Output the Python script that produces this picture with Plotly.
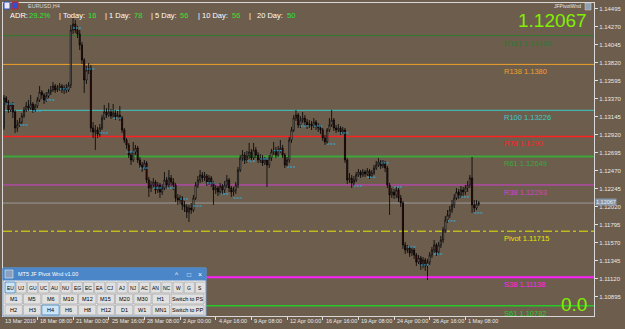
import plotly.graph_objects as go

# ---------------- data (EURUSD H4) ----------------
bar_index = list(range(5, 219))
first_open = 1.13018
close = [1.1338, 1.1333, 1.1323, 1.13293, 1.13205, 1.13005, 1.13043, 1.1308, 1.13155, 1.1323,
         1.1328, 1.13255, 1.13305, 1.1323, 1.1328, 1.13355, 1.13455, 1.13418, 1.13355, 1.13405,
         1.13455, 1.1348, 1.1353, 1.1348, 1.13505, 1.1353, 1.1348, 1.13505, 1.1348, 1.13543,
         1.1423, 1.14305, 1.1423, 1.1418, 1.14043, 1.13855, 1.13605, 1.1373, 1.13755, 1.13005,
         1.12955, 1.1298, 1.1293, 1.13005, 1.1313, 1.13205, 1.13168, 1.13205, 1.13155, 1.13193,
         1.13143, 1.13168, 1.1313, 1.1298, 1.12855, 1.12793, 1.12668, 1.12605, 1.12705, 1.12755,
         1.12605, 1.12543, 1.12505, 1.12568, 1.12355, 1.12255, 1.12293, 1.1233, 1.1223, 1.12293,
         1.12205, 1.12255, 1.12355, 1.12293, 1.1238, 1.1233, 1.12293, 1.1213, 1.12105, 1.1213,
         1.12043, 1.12018, 1.11955, 1.12005, 1.1198, 1.1213, 1.12293, 1.12355, 1.12418, 1.1238,
         1.12405, 1.1233, 1.1238, 1.12318, 1.1223, 1.12255, 1.12205, 1.1228, 1.1223, 1.12293,
         1.12355, 1.12255, 1.12205, 1.1223, 1.12293, 1.1248, 1.1263, 1.12668, 1.12605, 1.12655,
         1.12705, 1.1263, 1.1273, 1.12668, 1.12605, 1.1263, 1.12568, 1.12605, 1.12543, 1.1263,
         1.12705, 1.1273, 1.12668, 1.1273, 1.12755, 1.12668, 1.12543, 1.12605, 1.12855, 1.1298,
         1.1313, 1.13168, 1.13043, 1.13105, 1.1313, 1.1308, 1.13043, 1.13055, 1.1303, 1.1308,
         1.1303, 1.13005, 1.1298, 1.1288, 1.1283, 1.1298, 1.13043, 1.13105, 1.13005, 1.1298,
         1.13005, 1.12955, 1.1298, 1.12605, 1.12355, 1.1238, 1.12318, 1.12355, 1.12418, 1.12455,
         1.12418, 1.12455, 1.1243, 1.12468, 1.12405, 1.12443, 1.12505, 1.12543, 1.1258, 1.1253,
         1.12568, 1.12505, 1.12293, 1.12168, 1.12205, 1.12168, 1.1223, 1.1213, 1.12068, 1.11543,
         1.1148, 1.11505, 1.11443, 1.1148, 1.11418, 1.1133, 1.1138, 1.11293, 1.11355, 1.1128,
         1.1133, 1.11418, 1.1148, 1.11543, 1.11455, 1.11543, 1.11605, 1.1173, 1.11855, 1.11918,
         1.1198, 1.12043, 1.1213, 1.12205, 1.12168, 1.1223, 1.12205, 1.12255, 1.12293, 1.1238,
         1.12043, 1.12005, 1.12055, 1.12067]
high = [1.13418, 1.13405, 1.13355, 1.13318, 1.1333, 1.1323, 1.13105, 1.1313, 1.13193, 1.13268,
        1.1333, 1.13355, 1.13418, 1.1333, 1.13305, 1.13393, 1.1353, 1.1348, 1.13443, 1.13455,
        1.13493, 1.1353, 1.1358, 1.13555, 1.13543, 1.13568, 1.13555, 1.13543, 1.13555, 1.1358,
        1.14293, 1.1438, 1.14355, 1.1428, 1.1423, 1.1408, 1.1388, 1.1378, 1.13818, 1.13793,
        1.1308, 1.13043, 1.13018, 1.13055, 1.13168, 1.13293, 1.13255, 1.13318, 1.13243, 1.13305,
        1.1323, 1.13218, 1.1328, 1.13155, 1.13005, 1.1288, 1.12818, 1.12705, 1.1283, 1.12793,
        1.1278, 1.12643, 1.1258, 1.12605, 1.12593, 1.12393, 1.12343, 1.1238, 1.12355, 1.1233,
        1.12318, 1.12305, 1.12455, 1.12393, 1.1248, 1.12418, 1.1238, 1.12318, 1.1218, 1.12168,
        1.12155, 1.12093, 1.12055, 1.12043, 1.12068, 1.12168, 1.1233, 1.12405, 1.1248, 1.12455,
        1.12455, 1.1243, 1.12418, 1.12405, 1.12343, 1.12293, 1.1228, 1.12318, 1.12305, 1.12343,
        1.12418, 1.1238, 1.1228, 1.12268, 1.1233, 1.12518, 1.12668, 1.1273, 1.12705, 1.12718,
        1.12818, 1.12743, 1.12818, 1.12768, 1.12705, 1.1268, 1.12668, 1.12643, 1.1263, 1.12668,
        1.12743, 1.1283, 1.12768, 1.1278, 1.12855, 1.12793, 1.12693, 1.12643, 1.12893, 1.13018,
        1.13168, 1.1323, 1.13193, 1.13155, 1.13205, 1.13168, 1.13118, 1.13105, 1.13093, 1.1313,
        1.13105, 1.13068, 1.13043, 1.13005, 1.12918, 1.13005, 1.1313, 1.1323, 1.1313, 1.13043,
        1.13055, 1.1303, 1.13018, 1.13005, 1.1263, 1.12443, 1.12418, 1.12405, 1.12455, 1.12493,
        1.1248, 1.12493, 1.1248, 1.12505, 1.12493, 1.1248, 1.12543, 1.12593, 1.1263, 1.12605,
        1.12605, 1.12593, 1.1253, 1.12318, 1.12255, 1.12243, 1.12268, 1.12255, 1.12168, 1.12093,
        1.1158, 1.11543, 1.1153, 1.11518, 1.11505, 1.11443, 1.11418, 1.11405, 1.11393, 1.1138,
        1.11368, 1.11455, 1.11518, 1.11605, 1.11568, 1.1158, 1.11655, 1.11768, 1.11905, 1.1198,
        1.1203, 1.12105, 1.1218, 1.12255, 1.12243, 1.1228, 1.12268, 1.12293, 1.12343, 1.12418,
        1.12643, 1.12105, 1.12105, 1.12093]
low = [1.1298, 1.13293, 1.13193, 1.13205, 1.1313, 1.12943, 1.12955, 1.13018, 1.13055, 1.1313,
       1.13205, 1.13218, 1.1323, 1.13193, 1.13205, 1.13255, 1.1333, 1.13368, 1.13305, 1.1333,
       1.1338, 1.13418, 1.13455, 1.13443, 1.13455, 1.13468, 1.13443, 1.1343, 1.13443, 1.13455,
       1.13505, 1.1418, 1.14193, 1.1413, 1.1398, 1.13805, 1.13443, 1.13555, 1.1368, 1.12955,
       1.1288, 1.1273, 1.1288, 1.12893, 1.1298, 1.13105, 1.1313, 1.13143, 1.13118, 1.1313,
       1.13105, 1.13118, 1.13093, 1.12943, 1.12818, 1.12743, 1.1263, 1.12543, 1.1258, 1.12668,
       1.12568, 1.12505, 1.12455, 1.1248, 1.12318, 1.12143, 1.12205, 1.12255, 1.1218, 1.12193,
       1.1213, 1.12168, 1.1223, 1.12243, 1.12255, 1.1228, 1.1223, 1.1208, 1.12043, 1.12055,
       1.1198, 1.11955, 1.1188, 1.1183, 1.1193, 1.11955, 1.12105, 1.12255, 1.12318, 1.1233,
       1.12343, 1.1228, 1.12293, 1.12268, 1.12043, 1.1218, 1.12155, 1.12168, 1.1218, 1.12193,
       1.12255, 1.12205, 1.12143, 1.12155, 1.1218, 1.12255, 1.12455, 1.12593, 1.12555, 1.12568,
       1.12618, 1.12593, 1.12605, 1.1263, 1.12568, 1.12568, 1.1253, 1.12543, 1.12268, 1.12505,
       1.12593, 1.12668, 1.1263, 1.12643, 1.12693, 1.1263, 1.12505, 1.12518, 1.12568, 1.12818,
       1.12955, 1.13093, 1.13005, 1.13005, 1.13068, 1.1303, 1.12993, 1.13005, 1.1298, 1.13005,
       1.1298, 1.12955, 1.1293, 1.12843, 1.12793, 1.12805, 1.12955, 1.13018, 1.12968, 1.12943,
       1.12955, 1.12918, 1.1293, 1.12568, 1.12305, 1.12318, 1.12255, 1.1228, 1.1233, 1.12393,
       1.1238, 1.12393, 1.12393, 1.12405, 1.12368, 1.1238, 1.12418, 1.1248, 1.12518, 1.12493,
       1.12505, 1.12455, 1.12255, 1.11918, 1.1213, 1.12118, 1.1213, 1.1208, 1.12018, 1.11493,
       1.1143, 1.11443, 1.11393, 1.11405, 1.11368, 1.1128, 1.11305, 1.1123, 1.1125, 1.11218,
       1.11105, 1.11293, 1.1138, 1.11443, 1.11405, 1.11418, 1.11505, 1.11568, 1.11693, 1.11818,
       1.1188, 1.11943, 1.12005, 1.12105, 1.12118, 1.1213, 1.12155, 1.12168, 1.12205, 1.12255,
       1.11943, 1.11955, 1.1198, 1.1203]
open_ = [first_open] + close[:-1]

# daily open markers (start bar of each day, price)
day_start_bar = [6, 12, 18, 24, 30, 36, 42, 48, 54, 60, 66, 72, 78, 84, 90, 96, 102, 108,
                 114, 120, 126, 132, 138, 144, 150, 156, 162, 168, 174, 180, 186, 192, 198, 204, 210, 216]
day_open_price = [1.13305, 1.13043, 1.13218, 1.13355, 1.13493, 1.14255, 1.13743, 1.12943, 1.1313,
                  1.12705, 1.12505, 1.12255, 1.12255, 1.12118, 1.1203, 1.12318, 1.1218, 1.1213,
                  1.12592, 1.12618, 1.12721, 1.12518, 1.1303, 1.1303, 1.12805, 1.12943, 1.1228,
                  1.1239, 1.12568, 1.12268, 1.11518, 1.11293, 1.1143, 1.11843, 1.12143, 1.11943]

# pivot levels
level_names = ["R161", "R138", "R100", "R78", "R61", "R38", "Pivot", "S38", "S61"]
level_values = [1.14160, 1.13800, 1.13226, 1.12900, 1.12649, 1.12293, 1.11715, 1.11138, 1.10782]
level_labels = ["1.14160", "1.1380", "1.13226", "1.1290", "1.12649", "1.12293", "1.11715", "1.11138", "1.10782"]
level_colors = ["#2f7a2f", "#f0a028", "#3cc8c8", "#ff2020", "#3aa83a", "#d040d0", "#e6e600", "#ff20ff", "#28c828"]
level_widths = [1, 1, 1, 1.5, 2, 1, 1, 2, 1.5]
level_dash = ["solid"] * 6 + ["dashdot"] + ["solid"] * 2
current_price = 1.12067

# y axis ticks
y_tick_vals = [1.14495, 1.14270, 1.14045, 1.13820, 1.13595, 1.13370, 1.13145, 1.12920, 1.12695,
               1.12470, 1.12245, 1.12020, 1.11795, 1.11570, 1.11345, 1.11120, 1.10895]
y_tick_text = ["1.14495", "1.14270", "1.14045", "1.13820", "1.13595", "1.13370", "1.13145", "1.12920",
               "1.12695", "1.12470", "1.12245", "1.12020", "1.11795", "1.11570", "1.11345", "1.11120", "1.10895"]
# x axis ticks (bar index -> label)
x_tick_vals = [20, 36, 52, 68, 84, 100, 116, 132, 148, 164, 180, 196, 212]
x_tick_text = ["18 Mar 08:00", "21 Mar 00:00", "25 Mar 16:00", "28 Mar 08:00", "2 Apr 00:00", "4 Apr 16:00",
               "9 Apr 08:00", "12 Apr 00:00", "16 Apr 16:00", "19 Apr 08:00", "24 Apr 00:00", "26 Apr 16:00",
               "1 May 08:00"]

adr_parts = [("ADR:", "w", 8), ("29.2%", "g", 27), ("| Today:", "w", 57), ("16", "g", 86),
             ("| 1 Day:", "w", 103), ("78", "g", 132), ("| 5 Day:", "w", 149), ("56", "g", 178),
             ("| 10 Day:", "w", 196), ("56", "g", 230), ("|", "w", 247), ("20 Day:", "w", 255), ("50", "g", 285)]

# ---------------- figure ----------------
W, H = 625, 329
ML, MR, MT, MB = 3, 31, 3, 13
PW, PH = W - ML - MR, H - MT - MB
BG = "#6d5d4d"
FONT = "Liberation Sans"


def px(x):
    return (x - ML) / PW


def py(y):
    return (H - MB - y) / PH


fig = go.Figure()

# daily open markers
mx, my = [], []
for b, p in zip(day_start_bar, day_open_price):
    mx += [b, b + 3.6, None]
    my += [p, p, None]
fig.add_trace(go.Scatter(x=mx, y=my, mode="lines", line=dict(color="#2fb4ea", width=1, dash="2px,1px"),
                         hoverinfo="skip", showlegend=False))

fig.add_trace(go.Candlestick(
    x=bar_index, open=open_, high=high, low=low, close=close,
    increasing=dict(line=dict(color="#000000", width=0.8), fillcolor="#dcdcdc"),
    decreasing=dict(line=dict(color="#000000", width=0.8), fillcolor="#6a1010"),
    whiskerwidth=0, hoverinfo="skip", showlegend=False))

shapes = []
annotations = []

# pivot lines + labels
for name, val, lab, col, wd, dsh in zip(level_names, level_values, level_labels, level_colors, level_widths, level_dash):
    shapes.append(dict(type="line", xref="paper", x0=0, x1=1, yref="y", y0=val, y1=val,
                       line=dict(color=col, width=wd, dash=dsh), layer="below"))
    annotations.append(dict(xref="paper", x=px(502), yref="y", y=val, text=f"{name} {lab}",
                            xanchor="left", yanchor="top", yshift=-1, showarrow=False,
                            font=dict(family=FONT, size=7.5, color=col)))
# current price line
shapes.append(dict(type="line", xref="paper", x0=0, x1=1, yref="y", y0=current_price, y1=current_price,
                   line=dict(color="#9a9a9a", width=1), layer="below"))
annotations.append(dict(xref="paper", x=1, xanchor="left", xshift=1, yref="y", y=current_price, yshift=1.5,
                        text="1.12067", showarrow=False, bgcolor="#8797aa",
                        font=dict(family=FONT, size=5.5, color="#e8eef6"), borderpad=0))

# x labels
annotations.append(dict(xref="paper", x=0, yref="paper", y=py(321), text="13 Mar 2019", xanchor="left",
                        yanchor="middle", showarrow=False, xshift=0,
                        font=dict(family=FONT, size=5.5, color="#e8e8e8")))
for v, t in zip(x_tick_vals, x_tick_text):
    annotations.append(dict(xref="x", x=v, yref="paper", y=py(321), text=t, xanchor="left",
                            yanchor="middle", showarrow=False, xshift=1,
                            font=dict(family=FONT, size=5.5, color="#e8e8e8")))

# header texts
annotations.append(dict(xref="paper", x=px(26), yref="paper", y=py(6.5), text="EURUSD,H4", xanchor="left",
                        yanchor="middle", showarrow=False, font=dict(family=FONT, size=5.5, color="#d8d8d8")))
for txt, c, xpos in adr_parts:
    annotations.append(dict(xref="paper", x=px(xpos), yref="paper", y=py(16), text=txt, xanchor="left",
                            yanchor="middle", showarrow=False,
                            font=dict(family=FONT, size=7.5, color="#ffffff" if c == "w" else "#2ee62e")))
annotations.append(dict(xref="paper", x=px(583), yref="paper", y=py(6), text="JFPivotWnd", xanchor="right",
                        yanchor="middle", showarrow=False, font=dict(family=FONT, size=5, color="#e8e8e8")))
annotations.append(dict(xref="paper", x=px(589), yref="paper", y=py(20.5), text="1.12067", xanchor="right",
                        yanchor="middle", showarrow=False, font=dict(family=FONT, size=19, color="#80f000")))
annotations.append(dict(xref="paper", x=px(589), yref="paper", y=py(304), text="0.0", xanchor="right",
                        yanchor="middle", showarrow=False, font=dict(family=FONT, size=19, color="#80f000")))

# small flags top-left
shapes.append(dict(type="rect", xref="paper", yref="paper", x0=px(4), x1=px(10), y0=py(9), y1=py(2),
                   fillcolor="#e8e8f8", line=dict(color="#3050c0", width=1)))
shapes.append(dict(type="rect", xref="paper", yref="paper", x0=px(12), x1=px(18), y0=py(9), y1=py(2),
                   fillcolor="#3050d0", line=dict(color="#d02020", width=1)))
# icon next to JFPivotWnd
shapes.append(dict(type="rect", xref="paper", yref="paper", x0=px(585), x1=px(591), y0=py(10), y1=py(3),
                   fillcolor="#8fa0b0", line=dict(color="#d0d0d0", width=0.5)))


# ---- control panel (bottom-left) ----
def rect(x0, y0, x1, y1, fill, line, lw=1):
    shapes.append(dict(type="rect", xref="paper", yref="paper", x0=px(x0), x1=px(x1), y0=py(y1), y1=py(y0),
                       fillcolor=fill, line=dict(color=line, width=lw)))


def label(x, y, t, size=5.5, color="#000000", anchor="center"):
    annotations.append(dict(xref="paper", yref="paper", x=px(x), y=py(y), text=t, xanchor=anchor,
                            yanchor="middle", showarrow=False, font=dict(family=FONT, size=size, color=color)))


rect(3, 268, 206, 316, "#f0f0f0", "#7a9cc8")
rect(3, 268, 206, 280, "#4a86c8", "#4a86c8")
label(16, 274, "MT5 JF Pivot Wnd v1.00", 5.5, "#ffffff", "left")
label(177, 274, "^", 6.5, "#ffffff")
label(189, 274, "□", 6.5, "#ffffff")
label(200, 274, "×", 7, "#ffffff")
rect(5, 270, 13, 278, "#8aa0c0", "#ffffff", 0.5)

row1 = ["EU", "UJ", "GU", "UC", "AU", "NU", "EG", "EC", "EA", "CJ", "AJ", "NJ", "AC", "AN", "NC", "W", "G", "S"]
for k, t in enumerate(row1):
    x0 = 5 + k * 11.2
    sel = (t == "EU")
    rect(x0, 282, x0 + 10.2, 293, "#cce4f7" if sel else "#e1e1e1", "#3c7fb1" if sel else "#adadad", 0.8)
    label(x0 + 5.1, 287.5, t, 5)
row2 = ["M1", "M5", "M6", "M10", "M12", "M15", "M20", "M30", "H1"]
row3 = ["H2", "H3", "H4", "H6", "H8", "H12", "D1", "W1", "MN1"]
for r, (row, yy, last) in enumerate([(row2, 294, "Switch to PS"), (row3, 305, "Switch to PP")]):
    for k, t in enumerate(row):
        x0 = 5 + k * 18.4
        sel = (t == "H4")
        rect(x0, yy, x0 + 17.4, yy + 10, "#cce4f7" if sel else "#e1e1e1", "#3c7fb1" if sel else "#adadad", 0.8)
        label(x0 + 8.7, yy + 5, t, 5.5)
    rect(171, yy, 204, yy + 10, "#e1e1e1", "#adadad", 0.8)
    label(187.5, yy + 5, last, 5.5)

fig.update_layout(
    width=W, height=H, margin=dict(l=ML, r=MR, t=MT, b=MB, pad=0),
    paper_bgcolor=BG, plot_bgcolor=BG, showlegend=False,
    shapes=shapes, annotations=annotations,
    xaxis=dict(range=[4.58, 269.7], rangeslider=dict(visible=False), showgrid=False, zeroline=False,
               tickvals=x_tick_vals, ticks="outside", ticklen=3, tickcolor="#e0e0e0", showticklabels=False,
               showline=True, linecolor="#d8d8d8", linewidth=1, mirror=True),
    yaxis=dict(range=[1.10655, 1.145675], side="right", showgrid=False, zeroline=False,
               tickvals=y_tick_vals, ticktext=y_tick_text, ticks="outside", ticklen=3, tickcolor="#e0e0e0",
               tickfont=dict(family=FONT, size=6, color="#e8e8e8"),
               showline=True, linecolor="#d8d8d8", linewidth=1, mirror=True),
)

fig.write_html("out.html")
